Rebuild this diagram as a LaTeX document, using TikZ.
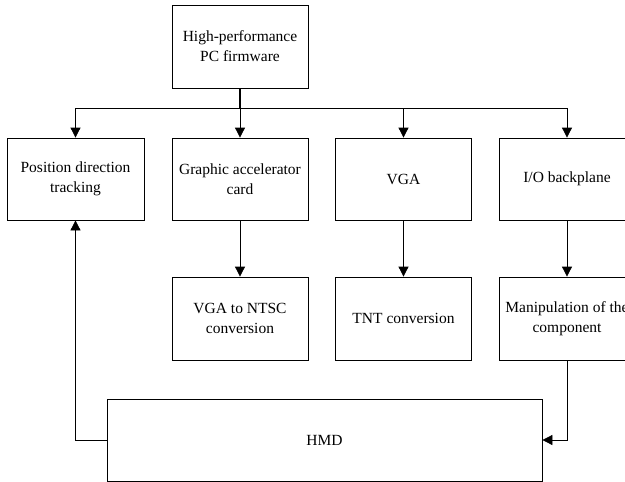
\documentclass[tikz,border=0pt]{standalone}
\usepackage{fontspec}
\setmainfont{Liberation Serif}
\usetikzlibrary{arrows.meta}
\begin{document}
\begin{tikzpicture}[x=1pt,y=1pt,
  box/.style={draw=black, line width=0.8pt, fill=white, align=center, inner sep=0pt,
    font=\fontsize{15.5}{20}\selectfont},
  wbox/.style={box, minimum width=136pt, minimum height=82pt},
  conn/.style={draw=black, line width=0.8pt},
  arr/.style={conn, -{Triangle[length=10pt,width=10pt]}}]
\useasboundingbox (0,0) rectangle (625,-482);
\clip (0,0) rectangle (625,-482);
\node[wbox, minimum height=83pt] (top) at (240,-46.5) {High-performance\\PC firmware};
\node[wbox, minimum width=137pt] (pos) at (75.5,-179) {Position direction\\tracking};
\node[wbox] (gac) at (240,-179) {Graphic accelerator\\card};
\node[wbox] (vga) at (403.5,-179) {VGA};
\node[wbox] (io) at (567,-179) {I/O backplane};
\node[wbox, minimum height=83pt] (ntsc) at (240,-318.5) {VGA to NTSC\\conversion};
\node[wbox, minimum height=83pt] (tnt) at (403.5,-318.5) {TNT conversion};
\node[wbox, minimum height=83pt] (man) at (567,-318.5) {Manipulation of the\\component};
\node[box, minimum width=435pt, minimum height=82pt] (hmd) at (324.5,-440) {HMD};
\coordinate (bus) at (240,-108);
\draw[conn, line width=1.8pt] (top.south) -- (bus);
\draw[conn] (pos.north |- bus) -- (io.north |- bus);
\draw[arr] (pos.north |- bus) -- (pos.north);
\draw[arr] (bus) -- (gac.north);
\draw[arr] (vga.north |- bus) -- (vga.north);
\draw[arr] (io.north |- bus) -- (io.north);
\draw[arr] (gac.south) -- (ntsc.north);
\draw[arr] (vga.south) -- (tnt.north);
\draw[arr] (io.south) -- (man.north);
\draw[arr] (man.south) |- (hmd.east);
\draw[arr] (hmd.west) -| (pos.south);
\end{tikzpicture}
\end{document}
